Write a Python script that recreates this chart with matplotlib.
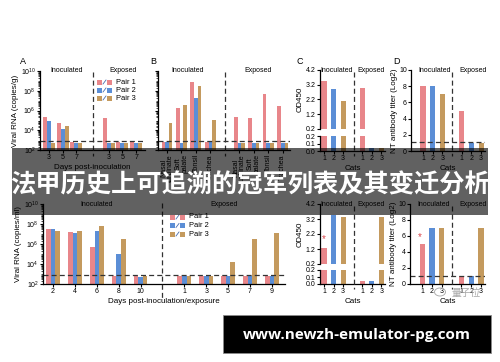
import matplotlib
matplotlib.use('Agg')
import matplotlib.pyplot as plt
import matplotlib.transforms as mtransforms
from matplotlib.patches import Rectangle, Ellipse
from matplotlib.lines import Line2D
from matplotlib.ticker import LogLocator, FixedLocator, NullFormatter
import numpy as np

plt.rcParams['font.family'] = ['Liberation Sans', 'DejaVu Sans']
plt.rcParams['mathtext.default'] = 'regular'

# ---- data ----
pairs = ['Pair 1', 'Pair 2', 'Pair 3']
colors = ['#e8868a', '#5b8ed6', '#c49a5e']

# A: viral RNA (copies/g), days post-inoculation
days_a = ['3', '5', '7']
a_inoc = [[2e5, 6e4, 6e2],
          [8e4, 1.3e4, 5e2],
          [5e2, 3e4, 5e2]]
a_exp = [[1.6e5, 6e2, 6e2],
         [5e2, 5e2, 5e2],
         [5e2, 5e2, 5e2]]

# B: tissues
tissues = ['Nasal\nturbinate', 'Soft\npalate', 'Tonsil', 'Trachea']
b_inoc = [[6e2, 1.6e6, 8e8, 6e2],
          [6e2, 5e2, 2e7, 6e2],
          [5e4, 4e6, 3e8, 1e5]]
b_exp = [[2e5, 1.6e5, 5e7, 3e6],
         [5e2, 5e2, 5e2, 5e2],
         [5e2, 5e2, 5e2, 5e2]]

# E: viral RNA (copies/ml)
days_e_inoc = ['2', '4', '6', '8', '10']
days_e_exp = ['1', '3', '5', '7', '9']
e_inoc = [[3e7, 1.6e7, 5e5, 6e2, 6e2],
          [3.5e7, 1.3e7, 2e7, 1e5, 5e2],
          [2e7, 2e7, 6e7, 3e6, 6e2]]
e_exp = [[6e2, 6e2, 6e2, 6e2, 6e2],
         [6e2, 6e2, 6e2, 6e2, 6e2],
         [6e2, 6e2, 1.6e4, 3e6, 1.3e7]]

cats = ['1', '2', '3']
od_top_inoc = [3.45, 2.9, 2.1]
od_top_exp = [2.95, 0.04, 0.04]
od_bot_inoc = [1.25, 3.45, 3.35]
od_bot_exp = [0.05, 0.04, 3.35]
nt_top_inoc = [8, 8, 7]
nt_top_exp = [5, 1, 1]
nt_bot_inoc = [5, 7, 7]
nt_bot_exp = [1, 1, 7]

limit_rna = 8e2
limit_nt = 1.05

W, H = 500, 362
fig = plt.figure(figsize=(W / 100, H / 100), dpi=100)
fs = 5.0


def px_axes(x0, y0, x1, y1):
    ax = fig.add_axes([x0 / W, 1 - y1 / H, (x1 - x0) / W, (y1 - y0) / H])
    ax.spines['top'].set_visible(False)
    ax.spines['right'].set_visible(False)
    for s in ['left', 'bottom']:
        ax.spines[s].set_linewidth(0.9)
    ax.tick_params(labelsize=fs, length=2, width=0.8, pad=1)
    ax.tick_params(which='minor', length=1.2, width=0.5)
    ax.patch.set_alpha(0)
    return ax


def divider(ax, x, y0, y1):
    tr = mtransforms.blended_transform_factory(ax.transData, fig.transFigure)
    fig.add_artist(Line2D([x, x], [1 - y0 / H, 1 - y1 / H], transform=tr,
                          color='#333333', lw=0.9, ls=(0, (4, 2.5))))


def titles(ax, xi, xe):
    tr = ax.get_xaxis_transform()
    ax.text(xi, 1.0, 'Inoculated', transform=tr, fontsize=fs, ha='center', va='center')
    ax.text(xe, 1.0, 'Exposed', transform=tr, fontsize=fs, ha='center', va='center')


def log_axis(ax, labels=True):
    ax.set_yscale('log')
    ax.set_ylim(1e2, 1e10)
    ax.yaxis.set_major_locator(FixedLocator([1e2, 1e4, 1e6, 1e8, 1e10]))
    ax.yaxis.set_minor_locator(LogLocator(base=10, subs=np.arange(2, 10), numticks=100))
    ax.yaxis.set_minor_formatter(NullFormatter())
    if not labels:
        ax.set_yticklabels([])


def grouped(ax, pos, series, w):
    for k in range(3):
        v = np.array(series[k])
        ax.bar(pos + (k - 1) * w, v - 1e2, bottom=1e2, width=w,
               color=colors[k], linewidth=0)


def legend(x, y, dy):
    for k in range(3):
        yy = y + k * dy
        for xx in [x, x + 10]:
            fig.add_artist(Rectangle((xx / W, 1 - (yy + 2.5) / H), 5 / W, 5 / H,
                                     transform=fig.transFigure, color=colors[k], lw=0))
        fig.add_artist(Line2D([(x + 6) / W, (x + 9) / W], [1 - (yy + 2) / H, 1 - (yy - 2) / H],
                              transform=fig.transFigure, color='#4a6fb0', lw=0.6))
        fig.text((x + 19) / W, 1 - yy / H, pairs[k], fontsize=fs + 0.4, va='center')


# ---- A ----
ax = px_axes(40, 71, 145, 150)
log_axis(ax)
pi = np.arange(3)
pe = np.arange(3) + 4.35
grouped(ax, pi, a_inoc, 0.29)
grouped(ax, pe, a_exp, 0.29)
ax.set_xlim(-0.66, 7.0)
ax.set_xticks(np.concatenate([pi, pe]))
ax.set_xticklabels(days_a + days_a)
ax.axhline(limit_rna, color='#333333', lw=0.9, ls=(0, (4, 2.5)))
divider(ax, 3.2, 72, 156)
titles(ax, 1.3, 5.4)
ax.set_ylabel('Viral RNA (copies/g)', fontsize=5.8, labelpad=1)
ax.set_xlabel('Days post-inoculation', fontsize=5.8, labelpad=2)
legend(97, 82, 8)

# ---- B ----
ax = px_axes(158, 71, 290, 150)
log_axis(ax, labels=False)
pi = np.arange(4)
pe = np.arange(4) + 5
grouped(ax, pi, b_inoc, 0.25)
grouped(ax, pe, b_exp, 0.25)
ax.set_xlim(-0.62, 8.5)
ax.set_xticks(np.concatenate([pi, pe]))
ax.set_xticklabels(tissues + tissues, rotation=90, fontsize=fs, linespacing=0.9)
ax.axhline(limit_rna, color='#333333', lw=0.9, ls=(0, (4, 2.5)))
divider(ax, 4, 72, 156)
titles(ax, 1.4, 6.3)


# ---- C / D ----
def od_panel(x0, x1, ytop, ybreak1, ybreak2, ybot, inoc, exp, star=False):
    up = px_axes(x0, ytop, x1, ybreak1)
    lo = px_axes(x0, ybreak2, x1, ybot)
    pos = np.array([1, 2, 3, 5, 6, 7])
    vals = np.array(inoc + exp)
    cols = colors + colors
    for a in (up, lo):
        a.bar(pos, vals, width=0.53, color=cols, linewidth=0)
        a.set_xlim(0.58, 7.4)
    up.set_ylim(0.2, 4.2)
    up.set_yticks([0.2, 1.2, 2.2, 3.2, 4.2])
    up.set_yticklabels(['0.2', '1.2', '2.2', '3.2', '4.2'])
    up.spines['bottom'].set_visible(False)
    up.set_xticks([])
    lo.set_ylim(0, 0.2)
    lo.set_yticks([0, 0.1, 0.2])
    lo.set_yticklabels(['0.0', '0.1', '0.2'])
    lo.set_xticks(pos)
    lo.set_xticklabels(cats + cats)
    lo.set_xlabel('Cats', fontsize=5.8, labelpad=2)
    divider(lo, 4.1, ytop + 2, ybot + 5)
    titles(up, 2.37, 5.95)
    fig.text((x0 - 20) / W, 1 - (ytop + ybreak1) / 2 / H, 'OD450', rotation=90,
             fontsize=5.8, ha='center', va='center')
    if star:
        up.text(1, 1.55, '*', color='#d9454a', fontsize=7, ha='center', va='bottom')
    return up, lo


def nt_panel(x0, x1, ytop, ybot, inoc, exp, star=False):
    ax = px_axes(x0, ytop, x1, ybot)
    pos = np.array([1, 2, 3, 5, 6, 7])
    ax.bar(pos, inoc + exp, width=0.53, color=colors + colors, linewidth=0)
    ax.set_xlim(-0.24, 7.4)
    ax.set_ylim(0, 10)
    ax.set_yticks([0, 2, 4, 6, 8, 10])
    ax.set_xticks(pos)
    ax.set_xticklabels(cats + cats)
    ax.axhline(limit_nt, color='#333333', lw=0.9, ls=(0, (4, 2.5)))
    divider(ax, 4, ytop + 2, ybot + 5)
    titles(ax, 2.15, 6.2)
    ax.set_ylabel('NT antibody titer (Log2)', fontsize=5.8, labelpad=1)
    ax.set_xlabel('Cats', fontsize=5.8, labelpad=2)
    if star:
        ax.text(0.75, 5.3, '*', color='#d9454a', fontsize=7, ha='center', va='bottom')
    return ax


od_panel(320, 385, 70, 129, 136, 151, od_top_inoc, od_top_exp)
nt_panel(411, 485, 70, 151, nt_top_inoc, nt_top_exp)

# ---- E ----
ax = px_axes(43, 204, 285, 284)
log_axis(ax)
pi = np.arange(5)
pe = np.arange(5) + 6
grouped(ax, pi, e_inoc, 0.21)
grouped(ax, pe, e_exp, 0.21)
ax.set_xlim(-0.46, 10.6)
ax.set_xticks(np.concatenate([pi, pe]))
ax.set_xticklabels(days_e_inoc + days_e_exp)
ax.axhline(limit_rna, color='#333333', lw=0.9, ls=(0, (4, 2.5)))
divider(ax, 5, 203, 300)
titles(ax, 2.0, 7.8)
ax.set_ylabel('Viral RNA (copies/ml)', fontsize=5.8, labelpad=1)
ax.set_xlabel('Days post-inoculation/exposure', fontsize=5.8, labelpad=2)
legend(170, 217, 8.5)

od_panel(320, 385, 204, 264, 270, 284, od_bot_inoc, od_bot_exp, star=True)
nt_panel(410, 485, 204, 284, nt_bot_inoc, nt_bot_exp, star=True)

# panel letters
for lab, x in [('A', 23), ('B', 153), ('C', 300), ('D', 397)]:
    fig.text(x / W, 1 - 62 / H, lab, fontsize=6.5, ha='center', va='center')

# watermark
fig.add_artist(Ellipse((440 / W, 1 - 292 / H), 11 / W, 8 / H, transform=fig.transFigure,
                       fill=False, edgecolor='#b0b0b0', lw=0.7))
fig.text(466 / W, 1 - 293 / H, '量子位', fontsize=7, color='#a8a8a8',
         family=['Noto Sans CJK SC'], ha='center', va='center')

# overlay banners
fig.add_artist(Rectangle((12 / W, 1 - 215 / H), 476 / W, 67 / H, transform=fig.transFigure,
                         facecolor='black', alpha=0.62, lw=0, zorder=10))
fig.text(250 / W, 1 - 185 / H, '法甲历史上可追溯的冠军列表及其变迁分析', fontsize=18.2,
         color='white', fontweight='bold', family=['Noto Sans CJK SC'],
         ha='center', va='center', zorder=11)
fig.add_artist(Rectangle((223 / W, 1 - 353 / H), 268 / W, 38 / H, transform=fig.transFigure,
                         facecolor='black', edgecolor='#8a8a8a', lw=0.6, zorder=10))
fig.text(357 / W, 1 - 335 / H, 'www.newzh-emulator-pg.com', fontsize=11, color='white',
         fontweight='bold', family=['Open Sans', 'DejaVu Sans'],
         ha='center', va='center', zorder=11)

fig.savefig('out.png', dpi=100)
